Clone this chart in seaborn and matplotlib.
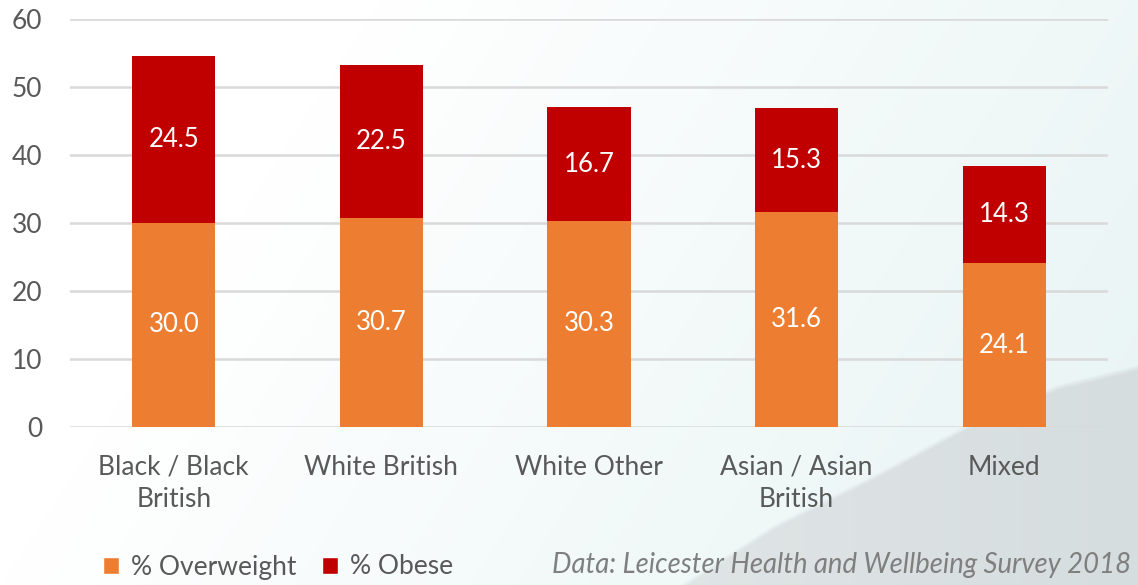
import numpy as np
import pandas as pd
import matplotlib
matplotlib.use("Agg")
import matplotlib.pyplot as plt
from matplotlib.patches import Patch
import seaborn as sns

# Survey results: percentage of adults overweight / obese by ethnic group
groups = ["Black / Black\nBritish", "White British", "White Other",
          "Asian / Asian\nBritish", "Mixed"]
overweight = [30.0, 30.7, 30.3, 31.6, 24.1]
obese = [24.5, 22.5, 16.7, 15.3, 14.3]
y_ticks = [0, 10, 20, 30, 40, 50, 60]

ORANGE = "#ED7D31"
RED = "#C00000"
TEXT = "#595959"
GRID = "#D9D9D9"

df = pd.DataFrame({"group": groups, "overweight": overweight, "obese": obese})
df["total"] = df["overweight"] + df["obese"]

sns.set_theme(style="white")
FONT = ["Lato", "DejaVu Sans"]
plt.rcParams["font.family"] = FONT

W, H = 1138, 585
fig = plt.figure(figsize=(W / 100, H / 100), dpi=100)

# Slide-style background: white-to-teal wash with a grey swoosh at lower right
bg = fig.add_axes([0, 0, 1, 1], zorder=-10)
xx, yy = np.meshgrid(np.arange(W), np.arange(H))
t = np.clip((xx / W) * 0.9 + (yy / H) * 0.3 - 0.3, 0, 1)
white = np.array([255, 255, 255], float)
teal = np.array([228, 242, 242], float)
img = white[None, None, :] * (1 - t[..., None]) + teal[None, None, :] * t[..., None]
# swoosh edge (pixel rows, measured from top)
cx = np.array([600, 683, 773, 873, 973, 1057, 1138])
cy = np.array([640, 585, 527, 477, 423, 387, 367])
boundary = np.interp(xx, cx, cy, left=10000)
d = yy - boundary
m = np.clip(d / 6.0 + 0.5, 0, 1)
grey_a = np.array([224, 229, 230], float)
grey_b = np.array([214, 221, 222], float)
s = np.clip((xx - 660) / 480, 0, 1)
grey = grey_a[None, None, :] * (1 - s[..., None]) + grey_b[None, None, :] * s[..., None]
img = img * (1 - m[..., None]) + grey * m[..., None]
bg.imshow(img.astype(np.uint8), aspect="auto", interpolation="bilinear")
bg.axis("off")

ax = fig.add_axes([70 / W, 1 - 427 / H, (1108 - 70) / W, (427 - 19) / H])
ax.patch.set_alpha(0)

# stacked bars: full height in red, overweight segment over it in orange
sns.barplot(data=df, x="group", y="total", color=RED, width=0.4,
            saturation=1, ax=ax, zorder=3, edgecolor="none")
sns.barplot(data=df, x="group", y="overweight", color=ORANGE, width=0.4,
            saturation=1, ax=ax, zorder=4, edgecolor="none")

for i, (ow, ob) in enumerate(zip(overweight, obese)):
    ax.text(i, ow / 2, f"{ow:.1f}", ha="center", va="center", color="white",
            fontsize=18.5, zorder=5)
    ax.text(i, ow + ob / 2, f"{ob:.1f}", ha="center", va="center", color="white",
            fontsize=18.5, zorder=5)

ax.set_xlim(-0.5, 4.5)
ax.set_ylim(0, 60)
ax.set_yticks(y_ticks)
ax.yaxis.grid(True, color=GRID, linewidth=1.8, zorder=0)
ax.set_axisbelow(True)
for sp in ax.spines.values():
    sp.set_visible(False)
ax.set_xlabel("")
ax.set_ylabel("")
ax.tick_params(axis="y", length=0, pad=20, labelsize=19, labelcolor=TEXT)
ax.tick_params(axis="x", length=0, pad=20, labelsize=19, labelcolor=TEXT)
for lab in ax.get_xticklabels():
    lab.set_linespacing(1.35)

handles = [Patch(facecolor=ORANGE, label="% Overweight"),
           Patch(facecolor=RED, label="% Obese")]
fig.legend(handles=handles, loc="center left", bbox_to_anchor=(103 / W, 1 - 567 / H),
           ncol=2, frameon=False, fontsize=19, labelcolor=TEXT,
           handlelength=0.62, handleheight=0.62, handletextpad=0.45,
           columnspacing=0.95, borderaxespad=0, borderpad=0)

fig.text(1131 / W, 1 - 565 / H, "Data: Leicester Health and Wellbeing Survey 2018",
         ha="right", va="center", style="italic", color="#7F7F7F", fontsize=19.8)

fig.savefig("out.png", dpi=100)
